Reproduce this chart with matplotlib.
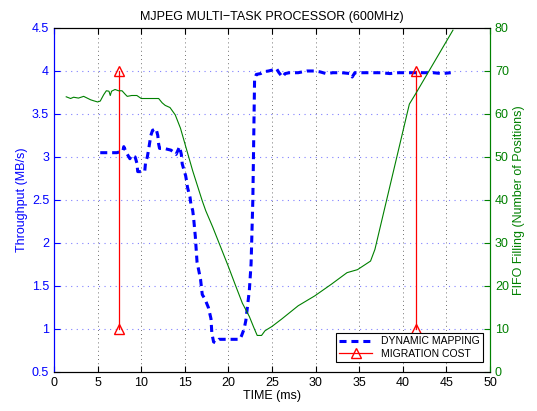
import numpy as np
import matplotlib
matplotlib.use("Agg")
import matplotlib.pyplot as plt

plt.rcParams['font.family'] = ['Liberation Sans', 'DejaVu Sans']

# throughput (MB/s), left axis
t_thr = [5.3, 6.3, 7.2, 7.9, 8.0, 8.3, 8.7, 8.9, 9.3, 9.5, 9.6, 10.4, 10.5, 10.7,
         10.9, 11.1, 11.3, 11.7, 11.9, 12.0, 12.1, 12.6, 13.4, 13.8, 14.0, 14.4,
         14.6, 14.7, 14.9, 15.1, 15.2, 15.3, 15.6, 15.7, 15.9, 16.0, 16.2, 16.4,
         16.6, 16.8, 17.0, 17.3, 17.7, 18.0, 18.1, 18.3, 18.5, 18.9, 20.0, 20.6,
         21.3, 21.5, 21.8, 22.0, 22.4, 22.6, 22.8, 22.9, 23.0, 23.2, 23.7, 24.0,
         24.6, 25.0, 25.5, 25.8, 26.2, 26.5, 27.0, 28.0, 29.0, 29.9, 30.5, 31.2,
         32.0, 33.0, 34.0, 34.2, 34.5, 35.5, 36.5, 37.5, 38.5, 39.5, 40.5, 41.5,
         42.5, 43.5, 44.5, 45.5]
thr = [3.05, 3.05, 3.05, 3.07, 3.12, 3.05, 2.98, 3.02, 3.0, 2.93, 2.83, 2.83, 2.94, 3.0,
       3.12, 3.25, 3.31, 3.33, 3.25, 3.15, 3.1, 3.1, 3.08, 3.05, 3.03, 3.12,
       3.03, 2.92, 2.85, 2.78, 2.72, 2.65, 2.53, 2.45, 2.38, 2.3, 2.08, 1.78,
       1.68, 1.58, 1.4, 1.35, 1.25, 1.12, 0.95, 0.85, 0.84, 0.88, 0.88, 0.88,
       0.88, 0.92, 1.0, 1.1, 1.45, 1.76, 2.5, 3.2, 3.9, 3.96, 3.97, 3.99,
       4.0, 4.01, 4.03, 3.98, 3.93, 3.97, 3.98, 3.98, 4.0, 4.0, 3.99, 3.97,
       3.98, 3.98, 3.97, 3.93, 3.98, 3.98, 3.98, 3.98, 3.97, 3.98, 3.98, 3.98,
       3.98, 3.98, 3.97, 3.98]

# FIFO filling (positions), right axis
t_fifo = [1.4, 1.9, 2.25, 2.8, 3.4, 3.8, 4.2, 4.5, 5.0, 5.3, 5.7, 6.0, 6.3, 6.45,
          6.6, 7.0, 7.4, 7.8, 8.2, 8.4, 8.9, 9.5, 10.0, 12.0, 12.4, 12.75, 13.3,
          13.9, 14.5, 15.9, 17.0, 17.4, 18.2, 19.1, 20.0, 20.8, 21.6, 22.4, 22.9,
          23.3, 23.8, 24.2, 25.0, 26.1, 28.0, 29.9, 31.8, 33.6, 34.8, 35.7, 36.3,
          36.8, 40.75, 41.5, 45.75]
fifo = [64.0, 63.6, 63.9, 63.7, 64.1, 63.7, 63.3, 63.1, 62.8, 63.0, 64.5, 65.4, 65.3, 64.3,
        65.3, 65.7, 65.4, 65.4, 64.5, 64.1, 64.3, 64.3, 63.6, 63.6, 62.6, 62.0, 61.5,
        59.8, 56.7, 46.8, 39.8, 37.5, 33.7, 29.1, 24.5, 20.2, 16.0, 12.9, 10.4,
        8.5, 8.5, 9.6, 10.6, 12.3, 15.4, 17.7, 20.4, 23.1, 23.8, 25.0, 25.8,
        28.5, 62.3, 64.8, 79.5]

# migration cost events
t_mig = [7.5, 41.5]
mig_low = 1.0
mig_high = 4.0

blue = (0, 0, 1)
green = (0, 0.5, 0)
red = (1, 0, 0)

fig = plt.figure(figsize=(5.37, 4.11), dpi=100)
ax = fig.add_axes([0.1006, 0.0949, 0.8119, 0.837])
ax2 = ax.twinx()

ax.plot(t_thr, thr, color=blue, lw=2.2, dashes=(2.3, 1.6), label='DYNAMIC MAPPING')
for i, tm in enumerate(t_mig):
    ax.plot([tm, tm], [mig_low, mig_high], color=red, lw=0.9, marker='^',
            markersize=7, markerfacecolor='none', markeredgecolor=red,
            label='MIGRATION COST' if i == 0 else None)
ax2.plot(t_fifo, fifo, color=green, lw=0.8)

ax.set_xlim(0, 50)
ax.set_ylim(0.5, 4.5)
ax2.set_ylim(0, 80)
ax.set_xticks(np.arange(0, 51, 5))
ax.set_yticks(np.arange(0.5, 4.51, 0.5))
ax.set_yticklabels(['0.5', '1', '1.5', '2', '2.5', '3', '3.5', '4', '4.5'])
ax2.set_yticks(np.arange(0, 81, 10))

# grid like matlab plotyy: x grid black, y grid blue
for xv in np.arange(5, 50, 5):
    ax.axvline(xv, color='0.25', lw=0.6, ls=(0, (1, 4)), zorder=0)
for yv in np.arange(1.0, 4.5, 0.5):
    ax.axhline(yv, color=(0.5, 0.5, 1), lw=0.8, ls=(0, (1, 4)), zorder=0)

ax.tick_params(axis='y', colors=blue, direction='in', labelsize=9, length=4)
ax.tick_params(axis='x', direction='in', labelsize=9, length=4, top=True)
ax2.tick_params(axis='y', colors=green, direction='in', labelsize=9, length=4)
ax2.spines['left'].set_color(blue)
ax2.spines['right'].set_color(green)
ax.spines['left'].set_color(blue)
ax.spines['right'].set_color(green)

ax.set_xlabel('TIME (ms)', fontsize=9, labelpad=1)
ax.set_ylabel('Throughput (MB/s)', color=blue, fontsize=9, labelpad=3)
ax2.set_ylabel('FIFO Filling (Number of Positions)', color=green, fontsize=9, labelpad=3)
ax.set_title('MJPEG MULTI\u2212TASK PROCESSOR (600MHz)', fontsize=9, pad=6)

leg = ax.legend(loc='lower right', fontsize=7.5, handlelength=3.2, borderpad=0.3,
                labelspacing=0.2, fancybox=False, framealpha=1,
                bbox_to_anchor=(0.995, 0.015))
leg.get_frame().set_edgecolor('black')
leg.get_frame().set_linewidth(0.8)

fig.savefig('out.png', dpi=100)
